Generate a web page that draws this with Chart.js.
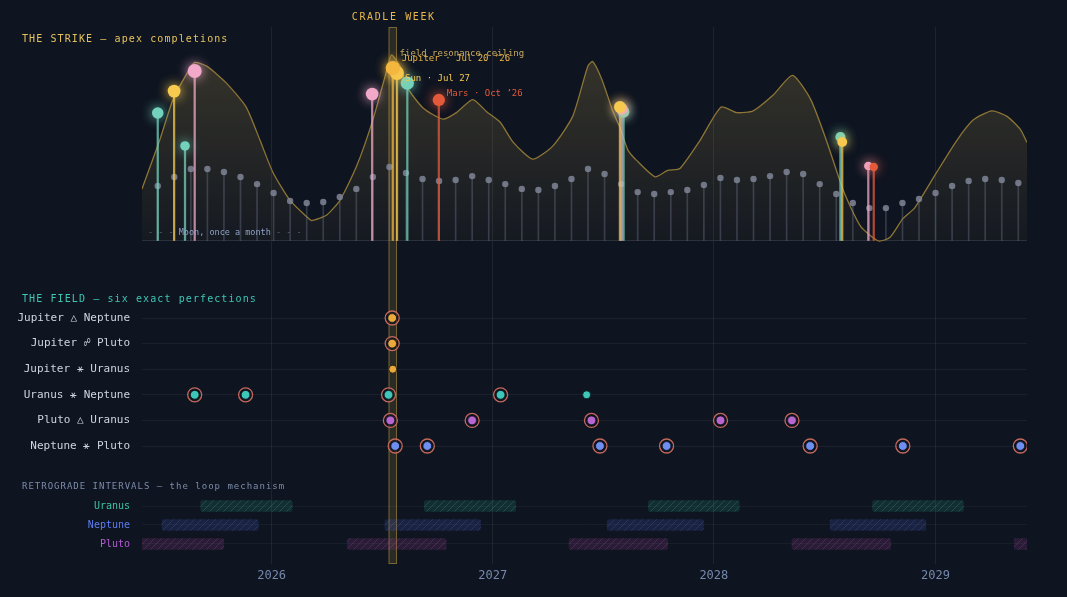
<!DOCTYPE html>
<html lang="en">
<head>
<meta charset="UTF-8">
<title>Cradle Week</title>
<script src="https://cdn.jsdelivr.net/npm/chart.js"></script>
<style>
    html, body { margin: 0; padding: 0; background: #0e1420; }
    .quadro { position: relative; width: 1067px; height: 597px; }
</style>
</head>
<body>
<div class="quadro">
    <canvas id="grafico" width="1067" height="597"></canvas>
</div>
<script>
    // ---- dados ----
    var xInicio = '2025-06-01'
    var xFim = '2029-06-01'
    var anos = [2026, 2027, 2028, 2029]
    var bercoSemana = ['2026-07-13', '2026-07-27']

    // teto de ressonancia (curva dourada)
    var tetoDatas = ['2025-06-01','2025-06-30','2025-07-22','2025-08-14','2025-08-27','2025-09-16','2025-10-18','2025-11-20','2025-12-13',
        '2026-01-03','2026-01-31','2026-02-28','2026-03-08','2026-04-02','2026-04-24','2026-05-21','2026-06-17','2026-07-12','2026-07-18',
        '2026-08-01','2026-08-12','2026-09-08','2026-10-11','2026-11-02','2026-11-29','2026-12-22','2027-01-13','2027-02-04','2027-03-08',
        '2027-04-10','2027-05-13','2027-06-07','2027-06-15','2027-06-30','2027-07-18','2027-07-30','2027-08-12','2027-08-26','2027-09-26',
        '2027-10-17','2027-11-06','2027-12-09','2028-01-13','2028-02-08','2028-03-06','2028-04-08','2028-05-10','2028-06-09','2028-07-06',
        '2028-08-02','2028-08-30','2028-09-29','2028-10-18','2028-11-08','2028-11-28','2029-01-03','2029-02-05','2029-03-04','2029-04-04',
        '2029-04-29','2029-05-21','2029-06-01']
    var tetoValores = [28, 54, 76, 90, 96, 94, 85, 72, 54,
        37, 22, 13, 11, 14, 22, 40, 65, 94, 100,
        94, 83, 71.5, 65.5, 69, 76, 69.5, 64, 53, 44,
        51, 67, 94, 96.5, 87, 70, 61, 49, 43.5, 34.5,
        38, 39, 54, 72, 69, 70, 78.5, 89, 76, 53,
        27, 8, 0, 2, 12, 18, 37, 54, 65, 70,
        67, 60, 53]

    // lua, uma vez por mes (siderico)
    var luaInicio = '2025-06-27'
    var luaPeriodo = 27.32
    var luaValores = [29.6, 34.4, 38.7, 38.7, 37.1, 34.4, 30.6, 25.8, 21.5, 20.4,
        21.0, 23.7, 28.0, 34.4, 39.8, 36.6, 33.3, 32.3, 32.8, 34.9,
        32.8, 30.6, 28.0, 27.4, 29.6, 33.3, 38.7, 36.0, 30.6, 26.3,
        25.3, 26.3, 27.4, 30.1, 33.9, 32.8, 33.3, 34.9, 37.1, 36.0,
        30.6, 25.3, 20.4, 17.7, 17.7, 20.4, 22.6, 25.8, 29.6, 32.3,
        33.3, 32.8, 31.2]

    // apex completions
    var apexDatas = ['2025-06-27','2025-07-24','2025-08-11','2025-08-27','2026-06-16','2026-07-20','2026-07-27','2026-08-13',
        '2026-10-04','2027-07-30','2027-08-02','2027-08-05','2028-07-28','2028-07-31','2028-09-12','2028-09-21']
    var apexValores = [68.8, 80.6, 51.1, 91.4, 79.0, 93.0, 90.3, 84.9, 75.8, 72.0, 71.0, 69.4, 55.9, 53.2, 40.3, 39.8]
    var apexCorpos = ['Mercury','Sun','Mercury','Venus','Venus','Jupiter','Sun','Mercury','Mars','Sun','Venus','Mercury',
        'Mercury','Sun','Venus','Mars']
    var corpos = ['Mercury', 'Venus', 'Sun', 'Jupiter', 'Mars']
    var corpoCores = { Mercury: '#72d2bc', Venus: '#f2a9c9', Sun: '#f7c94f', Jupiter: '#f3b73f', Mars: '#e35a3a' }

    // the field
    var campoLinhas = ['Jupiter △ Neptune', 'Jupiter ☍ Pluto', 'Jupiter ⚹ Uranus', 'Uranus ⚹ Neptune', 'Pluto △ Uranus', 'Neptune ⚹ Pluto']
    var campoCores = ['#eaa93a', '#eaa93a', '#eaa93a', '#3ec6b6', '#b765cf', '#6f8ff0']
    var campoDatas = [
        ['2026-07-19'],
        ['2026-07-19'],
        ['2026-07-20'],
        ['2025-08-27', '2025-11-19', '2026-07-13', '2027-01-14', '2027-06-05'],
        ['2026-07-16', '2026-11-28', '2027-06-13', '2028-01-12', '2028-05-09'],
        ['2026-07-24', '2026-09-15', '2027-06-27', '2027-10-15', '2028-06-08', '2028-11-08', '2029-05-21']
    ]
    var campoAnel = [[1], [1], [0], [1, 1, 1, 1, 0], [1, 1, 1, 1, 1], [1, 1, 1, 1, 1, 1, 1]]

    // retrogradacoes
    var retroLinhas = ['Uranus', 'Neptune', 'Pluto']
    var retroCores = ['#3cc4a4', '#5f7df2', '#b85ad6']
    var retroUranus = [['2025-09-06','2026-02-04'], ['2026-09-10','2027-02-08'], ['2027-09-15','2028-02-12'], ['2028-09-19','2029-02-16']]
    var retroNeptune = [['2025-07-04','2025-12-10'], ['2026-07-07','2026-12-12'], ['2027-07-09','2027-12-15'], ['2028-07-11','2028-12-16']]
    var retroPluto = [['2025-05-04','2025-10-14'], ['2026-05-06','2026-10-16'], ['2027-05-07','2027-10-17'], ['2028-05-09','2028-10-19'], ['2029-05-11','2029-10-20']]

    // ---- montagem ----
    var DIA = 86400000
    function t(s) { return Date.parse(s) }
    var fonte = "'DejaVu Sans Mono', monospace"
    Chart.defaults.font.family = fonte

    var grafico = document.getElementById('grafico')
    var ctx2d = grafico.getContext('2d')

    function hachura(fundo, linha) {
        var c = document.createElement('canvas')
        c.width = 7; c.height = 7
        var g = c.getContext('2d')
        g.fillStyle = fundo
        g.fillRect(0, 0, 7, 7)
        g.strokeStyle = linha
        g.lineWidth = 1
        g.beginPath()
        g.moveTo(0, 7); g.lineTo(7, 0)
        g.moveTo(-1, 1); g.lineTo(1, -1)
        g.moveTo(6, 8); g.lineTo(8, 6)
        g.stroke()
        return ctx2d.createPattern(c, 'repeat')
    }
    var retroPadroes = [
        hachura('rgba(40,150,130,0.20)', 'rgba(70,190,165,0.22)'),
        hachura('rgba(70,90,190,0.20)', 'rgba(100,120,220,0.22)'),
        hachura('rgba(150,60,150,0.20)', 'rgba(190,80,170,0.24)')
    ]

    var tetoPontos = tetoDatas.map(function (d, i) { return { x: t(d), y: tetoValores[i] } })
    var luaPontos = luaValores.map(function (v, i) { return { x: t(luaInicio) + i * luaPeriodo * DIA, y: v } })
    var apexPontos = apexDatas.map(function (d, i) { return { x: t(d), y: apexValores[i], corpo: apexCorpos[i] } })

    var pontosCampo = []
    campoDatas.forEach(function (linha, i) {
        linha.forEach(function (d, j) { pontosCampo.push({ x: t(d), y: i, anel: campoAnel[i][j] }) })
    })

    var retroPontos = []
    ;[retroUranus, retroNeptune, retroPluto].forEach(function (lista, i) {
        lista.forEach(function (p) { retroPontos.push({ x: [t(p[0]), t(p[1])], y: i }) })
    })

    function gradienteTeto(contexto) {
        var chart = contexto.chart
        if (!chart.chartArea) return 'rgba(196,165,80,0.1)'
        var escala = chart.scales.yForca
        var g = chart.ctx.createLinearGradient(0, escala.getPixelForValue(100), 0, escala.getPixelForValue(0))
        g.addColorStop(0, 'rgba(196,165,80,0.22)')
        g.addColorStop(1, 'rgba(196,165,80,0.04)')
        return g
    }

    var conjuntos = [
        {
            type: 'line', label: 'field resonance ceiling', data: tetoPontos, yAxisID: 'yForca',
            borderColor: '#8d7535', borderWidth: 1.3, pointRadius: 0, tension: 0.2,
            fill: 'origin', backgroundColor: gradienteTeto, order: 20
        },
        {
            type: 'bar', label: 'lua hastes', data: luaPontos, yAxisID: 'yForca',
            barThickness: 1, backgroundColor: 'rgba(120,128,148,0.35)', grouped: false, order: 19
        },
        {
            type: 'scatter', label: 'Moon', data: luaPontos, yAxisID: 'yForca',
            pointRadius: 3.2, pointBackgroundColor: 'rgba(128,134,150,0.85)', pointBorderWidth: 0, order: 18
        },
        {
            type: 'bar', label: 'apex hastes', data: apexPontos, yAxisID: 'yForca',
            barThickness: 1.6, grouped: false, order: 17,
            backgroundColor: apexCorpos.map(function (c) { return corpoCores[c] + 'c0' })
        }
    ]

    // um conjunto por corpo, para o brilho
    corpos.forEach(function (c, i) {
        conjuntos.push({
            type: 'scatter', label: c, data: apexPontos.filter(function (p) { return p.corpo === c }), yAxisID: 'yForca',
            pointRadius: function (ctx) { return ctx.raw ? 2 + ctx.raw.y * 0.055 : 4 },
            pointBackgroundColor: corpoCores[c], pointBorderWidth: 0,
            brilho: corpoCores[c], order: 16 - i * 0.1
        })
    })

    conjuntos.push({
        type: 'bar', label: 'retrograde', indexAxis: 'y', data: retroPontos, xAxisID: 'x', yAxisID: 'yRetro',
        barThickness: 11, borderRadius: 2, borderSkipped: false, grouped: false, order: 5,
        backgroundColor: function (ctx) { return ctx.raw ? retroPadroes[ctx.raw.y] : retroPadroes[0] }
    })
    conjuntos.push({
        type: 'scatter', label: 'aneis', data: pontosCampo.filter(function (p) { return p.anel }), yAxisID: 'yCampo',
        pointRadius: 7, pointBorderWidth: 1.3, pointBorderColor: '#c4685b', pointBackgroundColor: 'rgba(14,20,32,0.55)', order: 4
    })
    conjuntos.push({
        type: 'scatter', label: 'perfections', data: pontosCampo, yAxisID: 'yCampo',
        pointRadius: function (ctx) { return ctx.raw && !ctx.raw.anel ? 4 : 4.4 },
        pointBackgroundColor: function (ctx) { return ctx.raw ? campoCores[ctx.raw.y] : '#888' },
        pointBorderColor: 'rgba(10,14,24,0.8)', pointBorderWidth: 1, order: 3
    })

    // notas do painel de cima
    var notas = [
        { texto: 'field resonance ceiling', data: '2026-07-18', valor: 100, cor: '#c7aa62', dx: 8, dy: -1 },
        { texto: 'Jupiter · Jul 20 ’26', data: apexDatas[5], valor: apexValores[5], cor: '#f0b843', dx: 9, dy: -9 },
        { texto: 'Sun · Jul 27', data: apexDatas[6], valor: apexValores[6], cor: '#f7c94f', dx: 8, dy: 6 },
        { texto: 'Mars · Oct ’26', data: apexDatas[8], valor: apexValores[8], cor: '#e35a3a', dx: 8, dy: -6 }
    ]

    function escrever(ctx, s, x, y, cor, tam, esp, alinhar) {
        ctx.font = tam + 'px ' + fonte
        ctx.fillStyle = cor
        ctx.letterSpacing = (esp || 0) + 'px'
        ctx.textAlign = alinhar || 'left'
        ctx.textBaseline = 'middle'
        ctx.fillText(s, x, y)
        return ctx.measureText(s).width
    }

    var desenhos = {
        id: 'desenhos',
        beforeDatasetsDraw: function (chart) {
            var ctx = chart.ctx, area = chart.chartArea, x = chart.scales.x
            var x1 = x.getPixelForValue(t(bercoSemana[0]))
            var x2 = x.getPixelForValue(t(bercoSemana[1]))
            ctx.save()
            ctx.fillStyle = 'rgba(214,172,72,0.15)'
            ctx.fillRect(x1, area.top, x2 - x1, area.bottom - area.top)
            ctx.strokeStyle = 'rgba(214,172,72,0.45)'
            ctx.lineWidth = 1
            ctx.strokeRect(x1 + 0.5, area.top + 0.5, x2 - x1 - 1, area.bottom - area.top - 1)
            ctx.restore()
        },
        beforeDatasetDraw: function (chart, args) {
            var ds = chart.data.datasets[args.index]
            if (ds.brilho) {
                chart.ctx.save()
                chart.ctx.shadowColor = ds.brilho
                chart.ctx.shadowBlur = 12
            }
        },
        afterDatasetDraw: function (chart, args) {
            if (chart.data.datasets[args.index].brilho) chart.ctx.restore()
        },
        afterDatasetsDraw: function (chart) {
            var ctx = chart.ctx, area = chart.chartArea, s = chart.scales
            ctx.save()
            // titulos
            var xb = (s.x.getPixelForValue(t(bercoSemana[0])) + s.x.getPixelForValue(t(bercoSemana[1]))) / 2
            escrever(ctx, 'CRADLE WEEK', xb + 1, 17, '#e8b84a', 10, 1.6, 'center')
            escrever(ctx, 'THE STRIKE — apex completions', 22, 39, '#e6c35c', 10, 1.1)
            escrever(ctx, 'THE FIELD — six exact perfections', 22, s.yCampo.top + 37, '#3cc8b4', 10, 1.1)
            escrever(ctx, 'RETROGRADE INTERVALS — the loop mechanism', 22, s.yRetro.top + 17, '#7d8cab', 9, 1)

            // legenda da lua
            var xl = area.left + 6, yl = s.yForca.getPixelForValue(0) - 8
            xl += escrever(ctx, '- - - ', xl, yl, '#55607a', 8.5, 0)
            xl += escrever(ctx, 'Moon, once a month', xl, yl, '#8fa2c8', 8.5, 0)
            escrever(ctx, ' - - -', xl, yl, '#55607a', 8.5, 0)

            // notas
            notas.forEach(function (n) {
                var px = s.x.getPixelForValue(t(n.data)) + n.dx
                var py = s.yForca.getPixelForValue(n.valor) + n.dy
                escrever(ctx, n.texto, px, py, n.cor, 9, 0)
            })
            ctx.restore()
        }
    }

    var config = {
        type: 'line',
        data: { datasets: conjuntos },
        plugins: [desenhos],
        options: {
            responsive: false,
            animation: false,
            events: [],
            layout: { padding: { top: 27, right: 40, bottom: 0, left: 0 } },
            plugins: { legend: { display: false }, tooltip: { enabled: false } },
            scales: {
                x: {
                    type: 'linear', min: t(xInicio), max: t(xFim), offset: false,
                    afterBuildTicks: function (e) { e.ticks = anos.map(function (a) { return { value: t(a + '-01-01') } }) },
                    afterFit: function (e) { e.height = 33 },
                    ticks: {
                        callback: function (v) { return new Date(v).getUTCFullYear() },
                        color: '#7688ad', font: { size: 12 }, padding: 5, maxRotation: 0
                    },
                    grid: { color: 'rgba(255,255,255,0.07)', drawTicks: false, offset: false },
                    border: { display: false }
                },
                yForca: {
                    type: 'linear', position: 'left', stack: 'painel', stackWeight: 235, weight: 3,
                    min: -11.29, max: 115.05, offset: false,
                    afterBuildTicks: function (e) { e.ticks = [{ value: 0 }] },
                    afterFit: function (e) { e.width = 142 },
                    ticks: { display: false },
                    grid: { color: '#262c3a', drawTicks: false, offset: false },
                    border: { display: false }
                },
                yCampo: {
                    type: 'linear', position: 'left', stack: 'painel', stackWeight: 208, weight: 2,
                    reverse: true, min: -2.1875, max: 5.9375, offset: false,
                    afterBuildTicks: function (e) { e.ticks = campoLinhas.map(function (n, i) { return { value: i } }) },
                    afterFit: function (e) { e.width = 142 },
                    ticks: {
                        callback: function (v) { return campoLinhas[v] },
                        color: '#cfd5df', font: { size: 11 }, padding: 12, autoSkip: false
                    },
                    grid: { color: 'rgba(255,255,255,0.055)', drawTicks: false, offset: false },
                    border: { display: false }
                },
                yRetro: {
                    type: 'linear', position: 'left', stack: 'painel', stackWeight: 94, weight: 1,
                    reverse: true, min: -1.895, max: 3.053, offset: false,
                    afterBuildTicks: function (e) { e.ticks = retroLinhas.map(function (n, i) { return { value: i } }) },
                    afterFit: function (e) { e.width = 142 },
                    ticks: {
                        callback: function (v) { return retroLinhas[v] },
                        color: function (c) { return retroCores[c.index] }, font: { size: 10 }, padding: 12, autoSkip: false
                    },
                    grid: { color: 'rgba(255,255,255,0.045)', drawTicks: false, offset: false },
                    border: { display: false }
                }
            }
        }
    }

    var meuGrafico = new Chart(grafico, config)
</script>
</body>
</html>
